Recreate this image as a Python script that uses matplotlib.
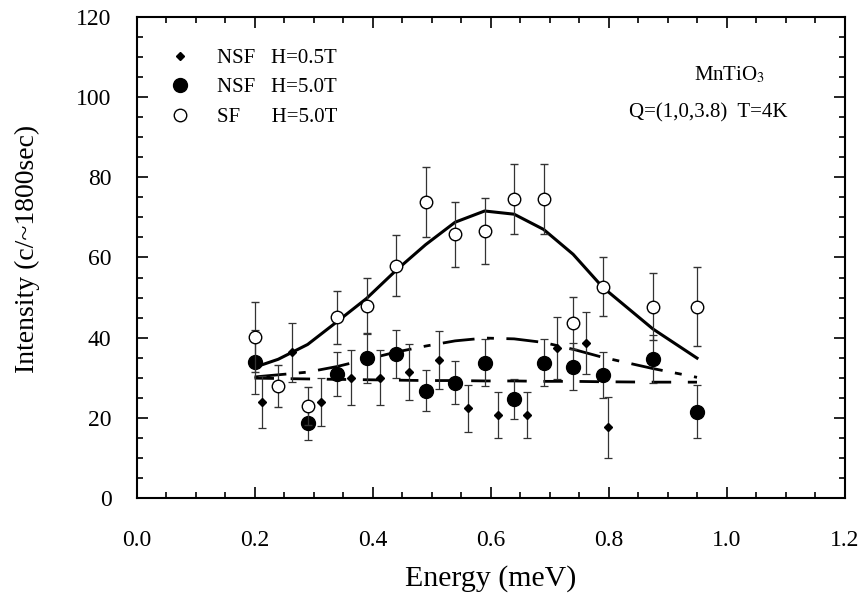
import matplotlib

matplotlib.use("Agg")
import matplotlib.pyplot as plt
from matplotlib.lines import Line2D


# ===== 数据 =====
# NSF H=0.5T（小菱形）
nsf05_energy = [0.213, 0.263, 0.313, 0.363, 0.413, 0.462, 0.513, 0.562,
                0.612, 0.662, 0.712, 0.762, 0.799]
nsf05_counts = [24.0, 36.3, 24.0, 30.0, 30.0, 31.5, 34.4, 22.4,
                20.7, 20.7, 37.5, 38.7, 17.6]
nsf05_err = [6.5, 7.4, 6.0, 6.8, 6.8, 7.0, 7.3, 5.9,
             5.7, 5.7, 7.7, 7.7, 7.5]

# NSF H=5.0T（实心圆）
nsf50_energy = [0.20, 0.29, 0.34, 0.39, 0.44, 0.49, 0.54, 0.59,
                0.64, 0.69, 0.74, 0.79, 0.875, 0.95]
nsf50_counts = [34.0, 18.8, 30.9, 34.9, 35.9, 26.8, 28.8, 33.8,
                24.7, 33.8, 32.8, 30.7, 34.6, 21.5]
nsf50_err = [8.0, 4.3, 5.5, 6.1, 6.0, 5.2, 5.4, 5.9,
             5.0, 5.9, 5.9, 5.7, 6.0, 6.6]

# SF H=5.0T（空心圆）
sf50_energy = [0.20, 0.24, 0.29, 0.34, 0.39, 0.44, 0.49, 0.54,
               0.59, 0.64, 0.69, 0.74, 0.79, 0.875, 0.95]
sf50_counts = [40.1, 27.9, 23.0, 45.1, 48.0, 57.9, 73.8, 65.8,
               66.7, 74.6, 74.6, 43.7, 52.7, 47.7, 47.7]
sf50_err = [8.7, 5.2, 4.7, 6.6, 6.9, 7.6, 8.7, 8.1,
            8.2, 8.7, 8.7, 6.5, 7.3, 8.4, 9.9]

# 拟合曲线
sf_fit = [32.6, 34.6, 38.3, 44.0, 49.8, 56.8, 63.2, 68.8,
          71.6, 70.8, 67.0, 60.8, 52.6, 42.2, 34.9]
nsf50_fit = [30.2, 31.4, 32.8, 34.6, 36.4, 37.9, 39.2, 39.9,
             39.7, 38.8, 37.1, 35.1, 32.3, 30.1]
nsf05_fit = [29.9, 29.7, 29.6, 29.5, 29.4, 29.3, 29.3, 29.2,
             29.2, 29.1, 29.1, 29.0, 28.9, 28.9]

legend_labels = ["NSF   H=0.5T", "NSF   H=5.0T", "SF      H=5.0T"]

x_ticks = [0.0, 0.2, 0.4, 0.6, 0.8, 1.0, 1.2]
y_ticks = [0, 20, 40, 60, 80, 100, 120]


plt.rcParams["font.family"] = ["Liberation Serif", "DejaVu Serif"]
plt.rcParams["mathtext.fontset"] = "stix"
plt.rcParams["lines.scale_dashes"] = False

figure = plt.figure(figsize=(8.62, 6.0), dpi=100)
axis = figure.add_axes([0.1584, 0.17, 0.8213, 0.8017])

# 拟合线先画，数据点压在上面
axis.plot(sf50_energy, sf_fit, color="black", linewidth=2.2, zorder=2)
axis.plot(nsf50_energy, nsf50_fit, color="black", linewidth=2.0,
          dashes=(23, 9, 5, 9), zorder=2)
axis.plot(nsf50_energy, nsf05_fit, color="black", linewidth=2.0,
          dashes=(14, 12), zorder=2)

err_style = dict(ecolor="#333333", elinewidth=0.9, capsize=3.2,
                 capthick=0.9, linestyle="none")

axis.errorbar(nsf05_energy, nsf05_counts, yerr=nsf05_err, marker="D",
              markersize=3.6, color="black", zorder=3, **err_style)
axis.errorbar(nsf50_energy, nsf50_counts, yerr=nsf50_err, marker="o",
              markersize=10, color="black", zorder=4, **err_style)
axis.errorbar(sf50_energy, sf50_counts, yerr=sf50_err, marker="o",
              markersize=9, markerfacecolor="white", markeredgecolor="black",
              markeredgewidth=1.0, zorder=5, **err_style)

axis.set_xlim(0.0, 1.2)
axis.set_ylim(0, 120)
axis.set_xticks(x_ticks)
axis.set_xticklabels([f"{t:.1f}" for t in x_ticks])
axis.set_yticks(y_ticks)
axis.set_xticks([t / 20 for t in range(0, 25)], minor=True)
axis.set_yticks(list(range(0, 121, 5)), minor=True)

axis.tick_params(which="both", direction="in", top=True, right=True,
                 labelsize=17, width=1.2)
axis.tick_params(which="major", length=8)
axis.tick_params(which="minor", length=4)
axis.tick_params(axis="x", which="major", pad=23)
axis.tick_params(axis="y", which="major", pad=18)
for spine in axis.spines.values():
    spine.set_linewidth(1.5)

axis.set_xlabel("Energy (meV)", fontsize=21.5, labelpad=10)
axis.set_ylabel("Intensity (c/~1800sec)", fontsize=20, labelpad=26, y=0.518)

# 图例只用标记，不带误差棒
handles = [
    Line2D([], [], marker="D", markersize=3.6, color="black", linestyle="none"),
    Line2D([], [], marker="o", markersize=10, color="black", linestyle="none"),
    Line2D([], [], marker="o", markersize=9, markerfacecolor="white",
           markeredgecolor="black", linestyle="none"),
]
axis.legend(handles, legend_labels, loc="upper left",
            bbox_to_anchor=(0.0467, 0.935), frameon=False, fontsize=15,
            handlelength=1.0, handletextpad=1.28, labelspacing=0.48,
            borderpad=0, borderaxespad=0)

axis.text(0.838, 0.879, "MnTiO$_3$", transform=axis.transAxes,
          fontsize=15, ha="center", va="center")
axis.text(0.808, 0.80, "Q=(1,0,3.8)  T=4K", transform=axis.transAxes,
          fontsize=15, ha="center", va="center")

figure.savefig("out.png", dpi=100)
plt.close(figure)
